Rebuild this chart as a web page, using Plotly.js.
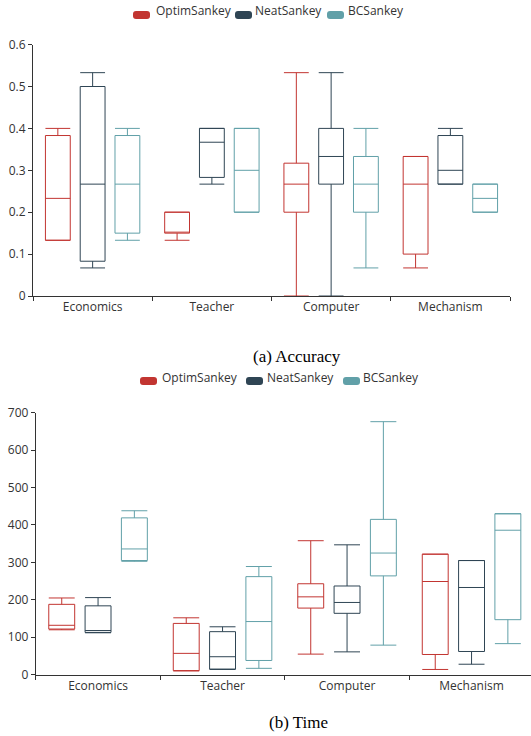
<!DOCTYPE html>
<html>
<head>
<meta charset="utf-8">
<script src="https://cdn.plot.ly/plotly-3.0.1.min.js"></script>
<style>html,body{margin:0;padding:0;background:#fff;}#chart{width:531px;height:736px;}</style>
</head>
<body>
<div id="chart"></div>
<script>
// ---- data ----
var categories = ['Economics', 'Teacher', 'Computer', 'Mechanism'];
var seriesNames = ['OptimSankey', 'NeatSankey', 'BCSankey'];
var seriesColors = ['#c23531', '#2f4554', '#61a0a8'];
var captions = ['(a) Accuracy', '(b) Time'];
var accTicks = [0, 0.1, 0.2, 0.3, 0.4, 0.5, 0.6];
var accTickLabels = ['0', '0.1', '0.2', '0.3', '0.4', '0.5', '0.6'];
var timeTicks = [0, 100, 200, 300, 400, 500, 600, 700];

// Accuracy
var accOptimLower  = [0.133, 0.133, 0.0,   0.067];
var accOptimQ1     = [0.133, 0.15,  0.2,   0.1];
var accOptimMedian = [0.233, 0.15,  0.267, 0.267];
var accOptimQ3     = [0.383, 0.2,   0.317, 0.333];
var accOptimUpper  = [0.4,   0.2,   0.533, 0.333];

var accNeatLower  = [0.067, 0.267, 0.0,   0.267];
var accNeatQ1     = [0.083, 0.283, 0.267, 0.267];
var accNeatMedian = [0.267, 0.367, 0.333, 0.3];
var accNeatQ3     = [0.5,   0.4,   0.4,   0.383];
var accNeatUpper  = [0.533, 0.4,   0.533, 0.4];

var accBCLower  = [0.133, 0.2, 0.067, 0.2];
var accBCQ1     = [0.15,  0.2, 0.2,   0.2];
var accBCMedian = [0.267, 0.3, 0.267, 0.233];
var accBCQ3     = [0.383, 0.4, 0.333, 0.267];
var accBCUpper  = [0.4,   0.4, 0.4,   0.267];

// Time
var timeOptimLower  = [120, 10,  55,  14];
var timeOptimQ1     = [122, 11,  178, 54];
var timeOptimMedian = [132, 57,  208, 249];
var timeOptimQ3     = [188, 137, 243, 322];
var timeOptimUpper  = [205, 152, 358, 322];

var timeNeatLower  = [112, 14,  61,  28];
var timeNeatQ1     = [113, 15,  164, 62];
var timeNeatMedian = [118, 48,  193, 233];
var timeNeatQ3     = [184, 115, 237, 305];
var timeNeatUpper  = [206, 128, 347, 305];

var timeBCLower  = [303, 17,  79,  83];
var timeBCQ1     = [305, 38,  264, 147];
var timeBCMedian = [336, 142, 325, 386];
var timeBCQ3     = [419, 262, 415, 430];
var timeBCUpper  = [438, 289, 676, 430];

// ---- build ----
var W = 531, H = 736;
function px(x) { return x / W; }
function py(y) { return 1 - y / H; }

function boxTrace(name, color, xa, ya, grp, lo, q1, med, q3, up) {
  return {
    type: 'box', name: name, x: categories,
    lowerfence: lo, q1: q1, median: med, q3: q3, upperfence: up,
    xaxis: xa, yaxis: ya,
    alignmentgroup: grp, offsetgroup: name,
    boxpoints: false, whiskerwidth: 1,
    line: {color: color, width: 1},
    fillcolor: '#ffffff',
    showlegend: false, hoverinfo: 'skip'
  };
}

var data = [
  boxTrace(seriesNames[0], seriesColors[0], 'x', 'y', 'acc', accOptimLower, accOptimQ1, accOptimMedian, accOptimQ3, accOptimUpper),
  boxTrace(seriesNames[1], seriesColors[1], 'x', 'y', 'acc', accNeatLower, accNeatQ1, accNeatMedian, accNeatQ3, accNeatUpper),
  boxTrace(seriesNames[2], seriesColors[2], 'x', 'y', 'acc', accBCLower, accBCQ1, accBCMedian, accBCQ3, accBCUpper),
  boxTrace(seriesNames[0], seriesColors[0], 'x2', 'y2', 'time', timeOptimLower, timeOptimQ1, timeOptimMedian, timeOptimQ3, timeOptimUpper),
  boxTrace(seriesNames[1], seriesColors[1], 'x2', 'y2', 'time', timeNeatLower, timeNeatQ1, timeNeatMedian, timeNeatQ3, timeNeatUpper),
  boxTrace(seriesNames[2], seriesColors[2], 'x2', 'y2', 'time', timeBCLower, timeBCQ1, timeBCMedian, timeBCQ3, timeBCUpper)
];

// legends drawn as rounded rect shapes + text annotations
function roundRect(x0, y0, x1, y1, r) {
  var pts = [
    ['M', x0 + r, y0], ['L', x1 - r, y0], ['Q', x1, y0, x1, y0 + r], ['L', x1, y1 - r],
    ['Q', x1, y1, x1 - r, y1], ['L', x0 + r, y1], ['Q', x0, y1, x0, y1 - r], ['L', x0, y0 + r],
    ['Q', x0, y0, x0 + r, y0]
  ];
  var s = '';
  pts.forEach(function (p) {
    s += p[0];
    for (var i = 1; i < p.length; i += 2) {
      s += px(p[i]).toFixed(5) + ',' + py(p[i + 1]).toFixed(5) + ' ';
    }
  });
  return s + 'Z';
}

var legendLayouts = [
  {iconX: [133, 235, 327], textX: [154, 253, 346], iconY: [11, 19], textY: 10},
  {iconX: [140, 246, 343], textX: [160, 265, 361], iconY: [377, 385], textY: 377}
];

var shapes = [], annotations = [];
legendLayouts.forEach(function (L) {
  for (var i = 0; i < seriesNames.length; i++) {
    shapes.push({
      type: 'path', xref: 'paper', yref: 'paper',
      path: roundRect(L.iconX[i], L.iconY[0], L.iconX[i] + 17, L.iconY[1], 3),
      fillcolor: seriesColors[i], line: {width: 0}
    });
    annotations.push({
      xref: 'paper', yref: 'paper', x: px(L.textX[i]), y: py(L.textY),
      xanchor: 'left', yanchor: 'middle', showarrow: false, text: seriesNames[i],
      font: {family: 'Open Sans, sans-serif', size: 12, color: '#333'}
    });
  }
});

annotations.push({
  xref: 'paper', yref: 'paper', x: px(297), y: py(356), xanchor: 'center', yanchor: 'middle',
  showarrow: false, text: captions[0],
  font: {family: 'Liberation Serif, Times New Roman, serif', size: 17, color: '#000'}
});
annotations.push({
  xref: 'paper', yref: 'paper', x: px(298), y: py(722), xanchor: 'center', yanchor: 'middle',
  showarrow: false, text: captions[1],
  font: {family: 'Liberation Serif, Times New Roman, serif', size: 17, color: '#000'}
});

var axisCommon = {
  showline: true, linecolor: '#333', linewidth: 1,
  ticks: 'outside', ticklen: 4, tickcolor: '#333', tickwidth: 1,
  showgrid: false, zeroline: false, fixedrange: true,
  tickfont: {family: 'Open Sans, sans-serif', size: 12, color: '#333'}
};

var layout = {
  width: W, height: H,
  margin: {l: 0, r: 0, t: 0, b: 0, pad: 0},
  paper_bgcolor: '#fff', plot_bgcolor: '#fff',
  showlegend: false,
  boxmode: 'group', boxgap: 0.125, boxgroupgap: 0.286,
  font: {family: 'Open Sans, sans-serif', size: 12, color: '#333'},
  xaxis: Object.assign({}, axisCommon, {
    domain: [px(33), px(510)], anchor: 'y', type: 'category',
    categoryorder: 'array', categoryarray: categories,
    tickson: 'boundaries', range: [-0.5, 3.5]
  }),
  yaxis: Object.assign({}, axisCommon, {
    domain: [py(296), py(44.6)], anchor: 'x', range: [0, 0.6],
    tickvals: accTicks, ticktext: accTickLabels
  }),
  xaxis2: Object.assign({}, axisCommon, {
    domain: [px(35.8), 1], anchor: 'y2', type: 'category',
    categoryorder: 'array', categoryarray: categories,
    tickson: 'boundaries', range: [-0.5, 3.4775]
  }),
  yaxis2: Object.assign({}, axisCommon, {
    domain: [py(674.7), py(412.7)], anchor: 'x2', range: [0, 700],
    tickvals: timeTicks
  }),
  shapes: shapes,
  annotations: annotations
};

Plotly.newPlot('chart', data, layout, {staticPlot: true, displayModeBar: false});
</script>
</body>
</html>
